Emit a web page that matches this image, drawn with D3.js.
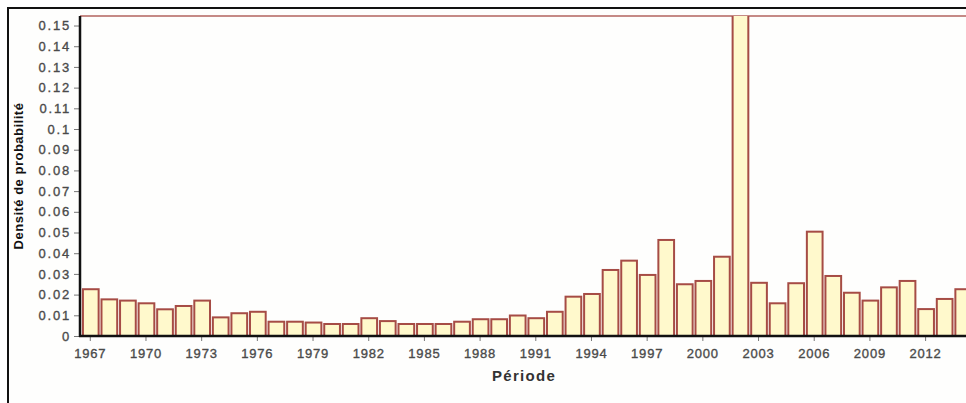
<!DOCTYPE html>
<html><head><meta charset="utf-8">
<script src="https://cdn.jsdelivr.net/npm/d3@7"></script>
<style>html,body{margin:0;padding:0;background:#fff;overflow:hidden}</style>
</head><body>
<svg id="c" width="966" height="403"></svg>
<script>
const years = d3.range(1967, 2015);
const density = [0.0226,0.0177,0.0171,0.0158,0.0129,0.0145,0.0171,0.0090,0.0110,0.0117,
 0.0069,0.0069,0.0065,0.0058,0.0058,0.0086,0.0072,0.0058,0.0058,0.0058,
 0.0069,0.0081,0.0081,0.0099,0.0086,0.0117,0.0190,0.0203,0.0319,0.0364,
 0.0295,0.0464,0.0250,0.0266,0.0383,0.1700,0.0257,0.0158,0.0255,0.0504,
 0.0290,0.0209,0.0171,0.0235,0.0266,0.0130,0.0179,0.0226];
const yTicks = d3.range(0, 16).map(i => +(i*0.01).toFixed(2));
const xTickYears = d3.range(1967, 2013, 3);
const xTitle = "Période";
const yTitle = "Densité de probabilité";

const svg = d3.select("#c");
const plotTop = 16, base = 336, left = 80;
const FF = "Liberation Sans, Arial, sans-serif";

// frame
svg.append("rect").attr("x",8).attr("y",8).attr("width",980).attr("height",420)
  .attr("fill","#fefefd").attr("stroke","#111").attr("stroke-width",2);

const x = d3.scaleBand().domain(years).range([81, 972]).paddingInner(0.1).paddingOuter(0.05);
const y = d3.scaleLinear().domain([0, 0.1546]).range([base, plotTop]);

svg.append("clipPath").attr("id","clip").append("rect")
  .attr("x", left).attr("y", plotTop).attr("width", 966-left).attr("height", base-plotTop);

// top frame line
svg.append("line").attr("x1",left).attr("x2",966).attr("y1",plotTop).attr("y2",plotTop)
  .attr("stroke","#c58a86").attr("stroke-width",2);

svg.append("g").attr("clip-path","url(#clip)")
  .selectAll("rect").data(years).join("rect")
  .attr("x", d => x(d)+1)
  .attr("y", (d,i) => y(density[i]))
  .attr("width", x.bandwidth()-1)
  .attr("height", (d,i) => base - y(density[i]))
  .attr("fill","#fff9cc")
  .attr("stroke","#a64c45")
  .attr("stroke-width",2);

// y axis
const yAxis = d3.axisLeft(y).tickValues(yTicks).tickSize(6).tickPadding(3)
  .tickFormat(d => d === 0 ? "0" : (d === 0.1 ? "0.1" : d3.format(".2f")(d)));
const gy = svg.append("g").attr("transform",`translate(${left},0)`).call(yAxis);
gy.select(".domain").remove();
gy.selectAll(".tick line").attr("stroke","#777");
gy.selectAll("text").attr("font-family",FF)
  .attr("font-size",13).attr("letter-spacing","1.8px").attr("fill","#4a4a4a")
  .attr("stroke","#4a4a4a").attr("stroke-width",0.35);
svg.append("line").attr("x1",left).attr("x2",left).attr("y1",plotTop).attr("y2",base+1)
  .attr("stroke","#111").attr("stroke-width",2.5);

// x axis
const xAxis = d3.axisBottom(x).tickValues(xTickYears).tickSize(5).tickPadding(8);
const gx = svg.append("g").attr("transform",`translate(0,${base})`).call(xAxis);
gx.select(".domain").remove();
gx.selectAll(".tick line").attr("stroke","#777");
gx.selectAll("text").attr("font-family",FF)
  .attr("font-size",13).attr("letter-spacing","0.8px").attr("fill","#4a4a4a")
  .attr("stroke","#4a4a4a").attr("stroke-width",0.35);
svg.append("line").attr("x1",left-1).attr("x2",966).attr("y1",base).attr("y2",base)
  .attr("stroke","#111").attr("stroke-width",2.5);

svg.append("text").attr("x",524).attr("y",381).attr("text-anchor","middle")
  .attr("font-family",FF).attr("font-size",15).attr("letter-spacing","1.3px")
  .attr("font-weight","bold").attr("fill","#333").text(xTitle);
svg.append("text").attr("transform","translate(23,176) rotate(-90)").attr("text-anchor","middle")
  .attr("font-family",FF).attr("font-size",13).attr("letter-spacing","0.5px")
  .attr("font-weight","bold").attr("fill","#111").text(yTitle);
</script>
</body></html>
